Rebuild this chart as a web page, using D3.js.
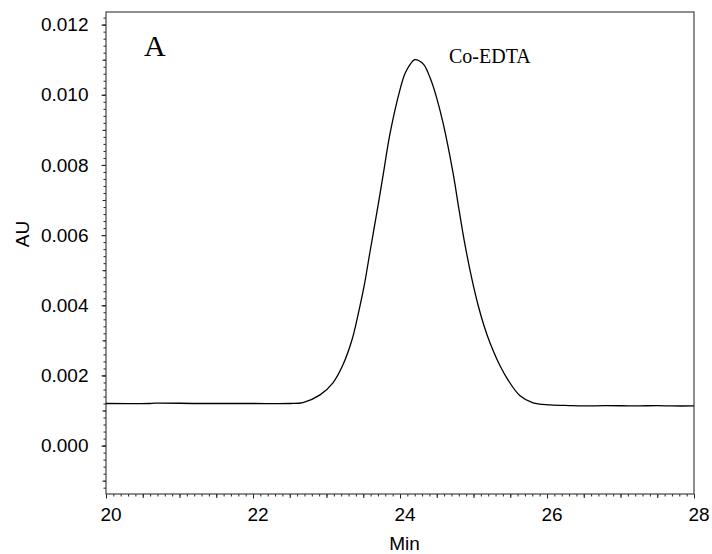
<!DOCTYPE html>
<html><head><meta charset="utf-8">
<script src="https://cdn.jsdelivr.net/npm/d3@7"></script>
<style>body{margin:0;background:#fff}svg{display:block}</style>
</head><body>
<script>
// Data (Min, AU)
const timeMin = [20.0, 20.6, 20.65, 21.3, 22.0, 22.5, 22.68, 22.912, 23.088, 23.224, 23.347, 23.429, 23.51, 23.592, 23.687, 23.769, 23.864, 24.0, 24.068, 24.136, 24.2, 24.26, 24.327, 24.408, 24.49, 24.585, 24.721, 24.803, 24.884, 24.98, 25.061, 25.143, 25.224, 25.361, 25.469, 25.633, 25.81, 26.041, 26.3, 26.5, 26.8, 27.2, 27.5, 27.7, 28.0];
const absAU   = [0.00120, 0.00120, 0.00121, 0.00120, 0.00120, 0.00120, 0.001227, 0.001446, 0.001789, 0.002302, 0.003016, 0.003729, 0.004528, 0.005526, 0.006668, 0.007695, 0.008893, 0.010148, 0.010605, 0.010862, 0.011000, 0.010970, 0.010850, 0.010491, 0.009978, 0.009207, 0.007781, 0.006725, 0.005727, 0.004728, 0.004014, 0.003415, 0.00293, 0.002274, 0.001874, 0.001418, 0.001218, 0.001161, 0.00114, 0.00113, 0.00114, 0.00113, 0.00114, 0.00113, 0.00113];
const xTicks = [20, 22, 24, 26, 28];
const yTicks = [0.000, 0.002, 0.004, 0.006, 0.008, 0.010, 0.012];
const peakLabel = "Co-EDTA";
const panelLabel = "A";
const xTitle = "Min";
const yTitle = "AU";

const W = 712, H = 554;
const L = 106, R = 694, T = 12, B = 494;
const svg = d3.select("body").append("svg").attr("width", W).attr("height", H);

const x = d3.scaleLinear().domain([20, 28]).range([L, R]);
const y = d3.scaleLinear().domain([-0.00138, 0.01236]).range([B, T]);

const font = "'Liberation Sans', Arial, sans-serif";
const serif = "'Liberation Serif', 'Times New Roman', serif";

// minor ticks
const xMinor = d3.range(20, 28.0001, 0.1).map(v => +v.toFixed(2));
const xMid = d3.range(20, 28.0001, 0.5).map(v => +v.toFixed(2));
const yMinor = d3.range(-0.0012, 0.01236, 0.0002).map(v => +v.toFixed(5));
const yMid = d3.range(-0.001, 0.01236, 0.001).map(v => +v.toFixed(5));

function styleAxis(g){
  g.select(".domain").remove();
  g.selectAll("line").attr("stroke", "#222").attr("stroke-width", 1);
}
svg.append("g").attr("transform", `translate(0,${B})`)
  .call(d3.axisBottom(x).tickValues(xMinor).tickSize(2.5).tickFormat("")).call(styleAxis);
svg.append("g").attr("transform", `translate(0,${B})`)
  .call(d3.axisBottom(x).tickValues(xMid).tickSize(4).tickFormat("")).call(styleAxis);
const gx = svg.append("g").attr("transform", `translate(0,${B})`)
  .call(d3.axisBottom(x).tickValues(xTicks).tickSize(4.5).tickPadding(9).tickFormat(d3.format("d"))).call(styleAxis);
gx.selectAll("text").attr("font-family", font).attr("font-size", 19).attr("fill", "#000").attr("dx", 4.5);

svg.append("g").attr("transform", `translate(${L},0)`)
  .call(d3.axisLeft(y).tickValues(yMinor).tickSize(2.5).tickFormat("")).call(styleAxis);
svg.append("g").attr("transform", `translate(${L},0)`)
  .call(d3.axisLeft(y).tickValues(yMid).tickSize(3.5).tickFormat("")).call(styleAxis);
const gy = svg.append("g").attr("transform", `translate(${L},0)`)
  .call(d3.axisLeft(y).tickValues(yTicks).tickSize(4.5).tickPadding(13).tickFormat(d3.format(".3f"))).call(styleAxis);
gy.selectAll("text").attr("font-family", font).attr("font-size", 19).attr("fill", "#000");

// frame
svg.append("rect").attr("x", L).attr("y", T).attr("width", R - L).attr("height", B - T)
  .attr("fill", "none").attr("stroke", "#444").attr("stroke-width", 1.2);

// curve
const pts = timeMin.map((t, i) => [t, absAU[i]]);
svg.append("path").datum(pts)
  .attr("d", d3.line().x(d => x(d[0])).y(d => y(d[1])).curve(d3.curveCatmullRom.alpha(0.5)))
  .attr("fill", "none").attr("stroke", "#000").attr("stroke-width", 1.3);

// labels
svg.append("text").attr("x", 144).attr("y", 56).attr("font-family", serif).attr("font-size", 30).text(panelLabel);
svg.append("text").attr("x", 449).attr("y", 63).attr("font-family", serif).attr("font-size", 20).text(peakLabel);
svg.append("text").attr("x", (L + R) / 2 + 4.5).attr("y", 550).attr("text-anchor", "middle")
  .attr("font-family", font).attr("font-size", 19).text(xTitle);
svg.append("text").attr("transform", "translate(29,234) rotate(-90)").attr("text-anchor", "middle")
  .attr("font-family", font).attr("font-size", 19).text(yTitle);
</script>
</body></html>
